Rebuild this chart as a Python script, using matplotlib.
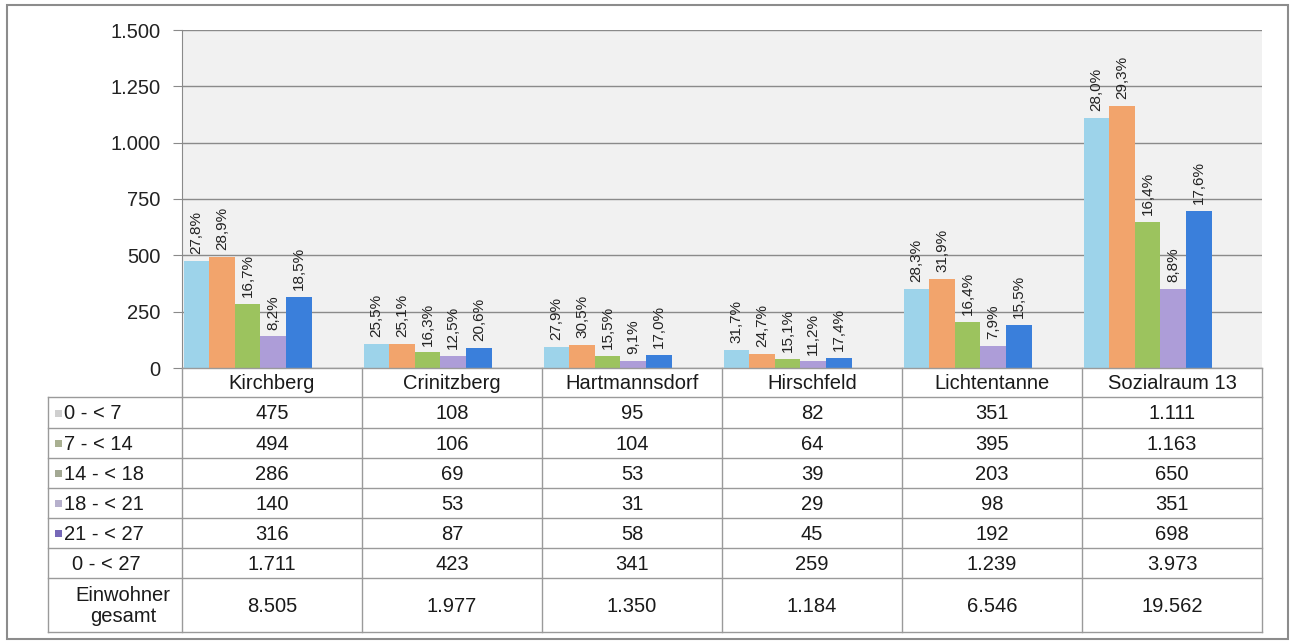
import matplotlib
matplotlib.use("Agg")
import matplotlib.pyplot as plt
from matplotlib.patches import Rectangle
from matplotlib.lines import Line2D
import numpy as np

plt.rcParams['font.family'] = ['Liberation Sans', 'DejaVu Sans']

# ---------------- data ----------------
categories = ["Kirchberg", "Crinitzberg", "Hartmannsdorf", "Hirschfeld", "Lichtentanne", "Sozialraum 13"]
series_names = ["0 - < 7", "7 - < 14", "14 - < 18", "18 - < 21", "21 - < 27"]
age_0_7 = [475, 108, 95, 82, 351, 1111]
age_7_14 = [494, 106, 104, 64, 395, 1163]
age_14_18 = [286, 69, 53, 39, 203, 650]
age_18_21 = [140, 53, 31, 29, 98, 351]
age_21_27 = [316, 87, 58, 45, 192, 698]
total_0_27 = [1711, 423, 341, 259, 1239, 3973]
einwohner_gesamt = [8505, 1977, 1350, 1184, 6546, 19562]
total_label = "0 - < 27"
einwohner_label = "Einwohner\ngesamt"
y_ticks = [0, 250, 500, 750, 1000, 1250, 1500]

series = [age_0_7, age_7_14, age_14_18, age_18_21, age_21_27]
bar_colors = ["#9dd3ea", "#f2a46c", "#9cc35e", "#ad9dd8", "#3a7fdb"]
key_colors = ["#cfcfcf", "#a9b091", "#a3a893", "#b6b0cc", "#7668b8"]


def de_int(v):
    return f"{v:,}".replace(",", ".")


def de_pct(v):
    return f"{v:.1f}%".replace(".", ",")


# ---------------- figure ----------------
W, H = 1293, 643
fig = plt.figure(figsize=(W / 100, H / 100), dpi=100)
fig.patch.set_facecolor("white")

px_left, px_right, px_top, px_bottom = 182, 1262, 30, 368
ax = fig.add_axes([px_left / W, 1 - px_bottom / H, (px_right - px_left) / W, (px_bottom - px_top) / H])
ax.set_facecolor("#f1f1f1")

n_cat = len(categories)
x = np.arange(n_cat)
bw = 0.142
start = 0.01
for i, (vals, col) in enumerate(zip(series, bar_colors)):
    xs = x + start + bw / 2 + i * bw
    ax.bar(xs, vals, width=bw, color=col, edgecolor="none", zorder=3)
    for xi, v, tot in zip(xs, vals, total_0_27):
        ax.annotate(de_pct(100.0 * v / tot), (xi, v), xytext=(0, 5), textcoords="offset points",
                    rotation=90, ha="center", va="bottom", fontsize=11, color="#222222", zorder=4)

ax.set_xlim(0, n_cat)
ax.set_ylim(0, 1500)
ax.set_yticks(y_ticks)
ax.set_yticklabels([de_int(t) for t in y_ticks], fontsize=14.5, color="#222222")
ax.set_xticks([])
ax.yaxis.grid(True, color="#8a8a8a", lw=1.0, zorder=1)
ax.tick_params(axis="y", length=6.5, color="#8a8a8a", pad=9)
for s in ["top", "right", "bottom"]:
    ax.spines[s].set_visible(False)
ax.spines["left"].set_color("#8a8a8a")

# ---------------- table ----------------
tab = fig.add_axes([0, 0, 1, 1], zorder=5)
tab.set_xlim(0, W)
tab.set_ylim(H, 0)
tab.axis("off")
tab.patch.set_alpha(0)

lc = "#9a9a9a"
col_w = (px_right - px_left) / n_cat
col_edges = [px_left + k * col_w for k in range(n_cat + 1)]
label_left = 48
row_edges = [368, 397, 428, 458, 488, 518, 548, 578, 632]

# horizontal lines
tab.add_line(Line2D([px_left, px_right], [row_edges[0]] * 2, color=lc, lw=1))
for ry in row_edges[1:]:
    tab.add_line(Line2D([label_left, px_right], [ry, ry], color=lc, lw=1))
# vertical lines
for cx in col_edges:
    tab.add_line(Line2D([cx, cx], [row_edges[0], row_edges[-1]], color=lc, lw=1))
tab.add_line(Line2D([label_left, label_left], [row_edges[1], row_edges[-1]], color=lc, lw=1))

fs = 14.5
tc = "#1a1a1a"
centers = [(col_edges[k] + col_edges[k + 1]) / 2 for k in range(n_cat)]
# header
for cx, name in zip(centers, categories):
    tab.text(cx, (row_edges[0] + row_edges[1]) / 2 + 1, name, ha="center", va="center", fontsize=fs, color=tc)

rows = series + [total_0_27, einwohner_gesamt]
for r, vals in enumerate(rows):
    ymid = (row_edges[r + 1] + row_edges[r + 2]) / 2 + 1
    for cx, v in zip(centers, vals):
        tab.text(cx, ymid, de_int(v), ha="center", va="center", fontsize=fs, color=tc)
    if r < len(series):
        tab.add_patch(Rectangle((55, ymid - 4), 7, 7, facecolor=key_colors[r], edgecolor="none"))
        tab.text(64, ymid, series_names[r], ha="left", va="center", fontsize=fs, color=tc)
    elif r == len(series):
        tab.text(72, ymid, total_label, ha="left", va="center", fontsize=fs, color=tc)
    else:
        tab.text(123, ymid, einwohner_label, ha="center", va="center", fontsize=fs, color=tc,
                 linespacing=1.1)

# outer border
tab.add_patch(Rectangle((7, 5), 1281, 634, fill=False, edgecolor="#8c8c8c", lw=1.5))

fig.savefig("out.png", dpi=100)
